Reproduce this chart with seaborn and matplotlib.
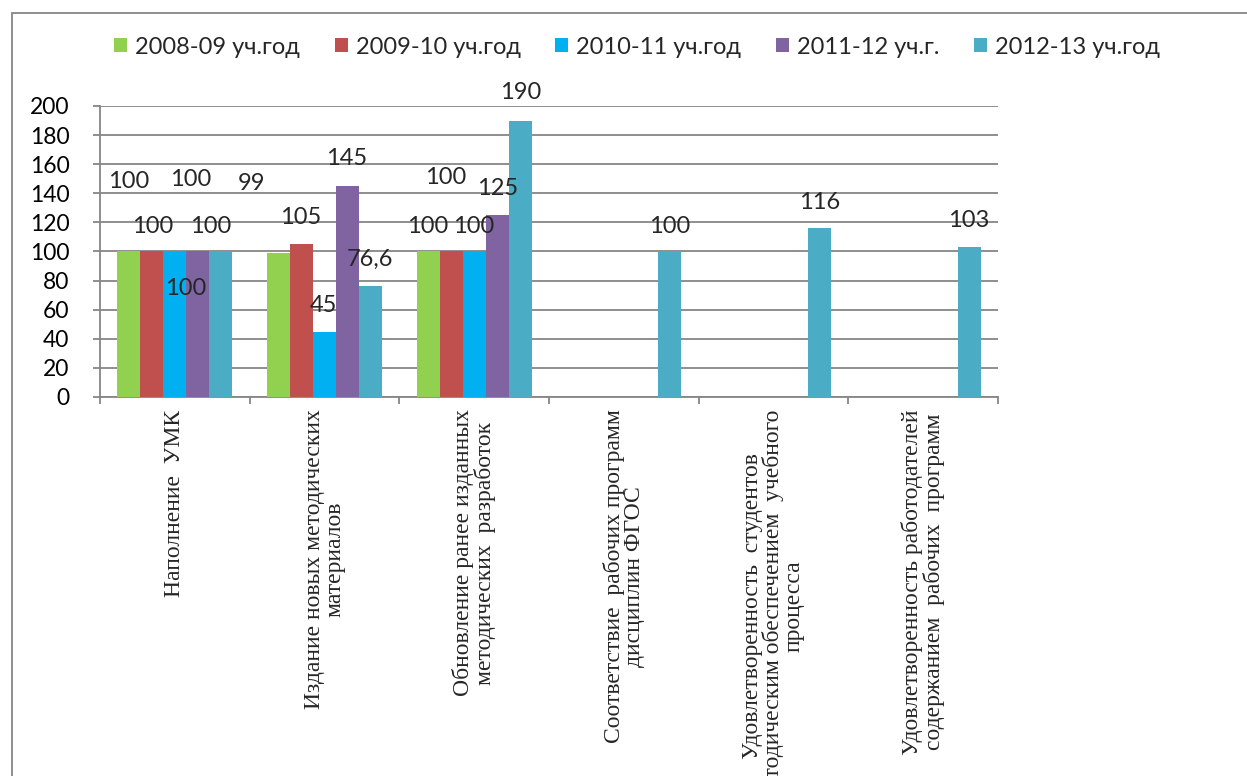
import numpy as np
import pandas as pd
import matplotlib.pyplot as plt
import seaborn as sns
from matplotlib.patches import Rectangle

# Categories (x axis) and series (academic years)
categories = [
    "Наполнение  УМК",
    "Издание новых методических\nматериалов",
    "Обновление ранее изданных\nметодических  разработок",
    "Соответствие  рабочих программ\nдисциплин ФГОС",
    "Удовлетворенность  студентов\nметодическим обеспечением  учебного\nпроцесса",
    "Удовлетворенность работодателей\nсодержанием  рабочих  программ",
]
years = ["2008-09 уч.год", "2009-10 уч.год", "2010-11 уч.год", "2011-12 уч.г.", "2012-13 уч.год"]

v_2008 = [100, 99, 100, 0, 0, 0]
v_2009 = [100, 105, 100, 0, 0, 0]
v_2010 = [100, 45, 100, 0, 0, 0]
v_2011 = [100, 145, 125, 0, 0, 0]
v_2012 = [100, 76.6, 190, 100, 116, 103]

colors = ["#92D050", "#C0504D", "#00B0F0", "#8064A2", "#4BACC6"]

# Data label placement (manually moved in the original): x shift in px, y in data units
label_dx = [
    [-0.5, -27.5, -1, 0, 0, 0],
    [0.5, -0.5, -6, 0, 0, 0],
    [10.5, -1.5, -1, 0, 0, 0],
    [-7.5, -0.5, 0, 0, 0, 0],
    [-10.5, -0.5, 0, 0, 0, 0],
]
label_y = [
    [147.8, 147, 117.5, 0, 0, 0],
    [117.5, 123.7, 151.2, 0, 0, 0],
    [74.9, 63.2, 117.5, 0, 0, 0],
    [149.8, 163.6, 143, 0, 0, 0],
    [117.5, 94.8, 209, 117.5, 134, 121.6],
]

series = [v_2008, v_2009, v_2010, v_2011, v_2012]
df = pd.DataFrame({
    "category": np.tile(categories, len(years)),
    "year": np.repeat(years, len(categories)),
    "value": np.concatenate(series),
})

sns.set_theme(style="white")
plt.rcParams["font.family"] = ["Lato", "DejaVu Sans"]

W, H = 1247, 776
fig = plt.figure(figsize=(W / 100, H / 100), dpi=100)
ax = fig.add_axes([100 / W, 1 - 397 / H, 898 / W, 291 / H])

sns.barplot(data=df, x="category", y="value", hue="year", palette=colors,
            width=0.768, linewidth=0, saturation=1, ax=ax, zorder=3)

grid_c = "#868686"
ax.set_ylim(0, 200)
ax.set_xlim(-0.5, len(categories) - 0.5)
ax.set_yticks(range(0, 201, 20))
ax.yaxis.grid(True, color=grid_c, linewidth=1.3, zorder=0)
ax.set_axisbelow(True)
ax.set_xlabel("")
ax.set_ylabel("")
for s in ["top", "right"]:
    ax.spines[s].set_visible(False)
for s in ["left", "bottom"]:
    ax.spines[s].set_color(grid_c)
    ax.spines[s].set_linewidth(1.3)

ax.tick_params(axis="y", left=True, length=5, width=1.3, color=grid_c, labelsize=16.5, pad=17, labelcolor="black")
ax.set_xticks(range(len(categories)))
ax.set_xticklabels(categories, rotation=90, family="Liberation Serif", fontsize=17,
                   multialignment="center", va="top", ha="center", linespacing=0.97)
ax.tick_params(axis="x", which="major", length=0, pad=9)
ax.set_xticks(np.arange(-0.5, len(categories), 1), minor=True)
ax.tick_params(axis="x", which="minor", bottom=True, length=5, width=1.3, color=grid_c)

# Data labels
px_per_cat = 898 / len(categories)
for i, cont in enumerate(ax.containers):
    for j, bar in enumerate(cont):
        v = series[i][j]
        if v == 0:
            continue
        xc = bar.get_x() + bar.get_width() / 2 + label_dx[i][j] / px_per_cat
        txt = f"{v:g}".replace(".", ",")
        ax.text(xc, label_y[i][j], txt, ha="center", va="center", fontsize=17, zorder=5)

sns.move_legend(ax, "center", bbox_to_anchor=((637 - 100) / 898, (397 - 47) / 291),
                ncol=5, frameon=False, title=None, fontsize=17,
                handlelength=0.55, handleheight=0.55, handletextpad=0.35, columnspacing=1.45)

# Chart area border
fig.patches.append(Rectangle((12 / W, -0.1), 1.2, 1 - 13 / H + 0.1, transform=fig.transFigure,
                             fill=False, edgecolor=grid_c, linewidth=1.3))

fig.savefig("out.png", dpi=100)
